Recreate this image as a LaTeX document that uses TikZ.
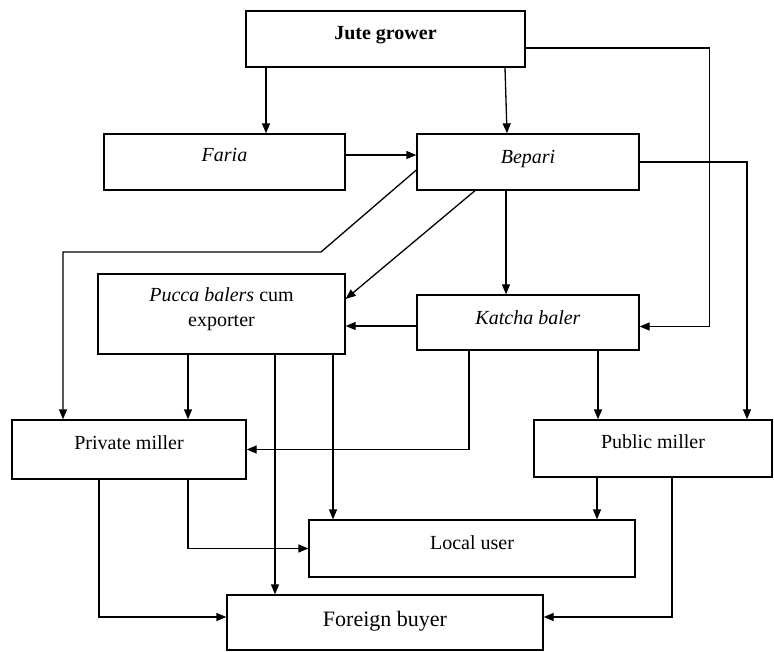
\documentclass[tikz,border=0pt]{standalone}
\usepackage{fontspec}
\setmainfont{Liberation Serif}
\usetikzlibrary{arrows.meta}

\begin{document}
\begin{tikzpicture}[x=1pt, y=-1pt,
    % Styles
    box/.style={draw, line width=1.3pt, inner sep=0pt, align=center,
        font=\fontsize{20}{25}\selectfont, text height=14pt, text depth=#1},
    box/.default=13pt,
    flow/.style={-{Triangle[length=10pt, width=8pt]}, line width=1.3pt},
]
\useasboundingbox (0,0) rectangle (774,652);

% Top row
\node[box, minimum width=279pt, minimum height=56pt] (jute) at (385.5, 39) {\textbf{Jute grower}};
\node[box=14.8pt, minimum width=241pt, minimum height=56pt] (faria) at (224.5, 162) {\textit{Faria}};
\node[box=10.8pt, minimum width=222pt, minimum height=56pt] (bepari) at (528, 162) {\textit{Bepari}};

% Balers
\node[box=14pt, text height=39pt, minimum width=247pt, minimum height=80pt] (pucca) at (221.5, 314) {\textit{Pucca balers} cum\\exporter};
\node[box=9.8pt, minimum width=222pt, minimum height=55pt] (katcha) at (528, 322.5) {\textit{Katcha baler}};

% Millers
\node[box=13.8pt, minimum width=234pt, minimum height=59pt] (private) at (129, 449.5) {Private miller};
\node[box=13.8pt, minimum width=238pt, minimum height=57pt] (public) at (653, 448.5) {Public miller};

% Final users
\node[box=11.8pt, minimum width=326pt, minimum height=57pt] (local) at (472, 548.5) {Local user};
\node[box=7.9pt, minimum width=316pt, minimum height=55pt, font=\fontsize{22}{26}\selectfont, text height=15.5pt] (foreign) at (385, 622.5) {Foreign buyer};

% Bend point of the Bepari line
\coordinate (bend) at (321, 252);

% From the grower
\draw[flow] ([xshift=-119.5pt]jute.south) -- ([xshift=41.5pt]faria.north);
\draw[flow] ([xshift=119.5pt]jute.south) -- ([xshift=-21pt]bepari.north);
\draw[flow] ([yshift=-9pt]jute.east) -| ([xshift=70pt, yshift=-4pt]katcha.east) -- ([yshift=-4pt]katcha.east);

% From Faria and Bepari
\draw[flow] ([yshift=7pt]faria.east) -- ([yshift=7pt]bepari.west);
\draw[flow] (bepari.east) -| ([xshift=94pt]public.north);
\draw[flow] ([yshift=-8pt]bepari.west) -- (bend) -| ([xshift=-66pt]private.north);
\draw[flow] ([xshift=-53pt]bepari.south) -- ([yshift=15pt]pucca.east);
\draw[flow] ([xshift=-22pt]bepari.south) -- ([xshift=-22pt]katcha.north);

% From the balers
\draw[flow] ([yshift=-3.5pt]katcha.west) -- ([yshift=-3.5pt]katcha.west -| pucca.east);
\draw[flow] ([xshift=-33.5pt]pucca.south) -- ([xshift=-33.5pt]pucca.south |- private.north);
\draw[flow] ([xshift=53.5pt]pucca.south) -- ([xshift=53.5pt]pucca.south |- foreign.north);
\draw[flow] ([xshift=111.5pt]pucca.south) -- ([xshift=111.5pt]pucca.south |- local.north);
\draw[flow] ([xshift=-59pt]katcha.south) |- (private.east);
\draw[flow] ([xshift=70pt]katcha.south) -- ([xshift=70pt]katcha.south |- public.north);

% From the millers
\draw[flow] ([xshift=-30pt]private.south) |- ([yshift=5.5pt]foreign.west);
\draw[flow] ([xshift=59pt]private.south) |- (local.west);
\draw[flow] ([xshift=-56pt]public.south) -- ([xshift=-56pt]public.south |- local.north);
\draw[flow] ([xshift=19pt]public.south) |- ([yshift=5.5pt]foreign.east);

\end{tikzpicture}
\end{document}
